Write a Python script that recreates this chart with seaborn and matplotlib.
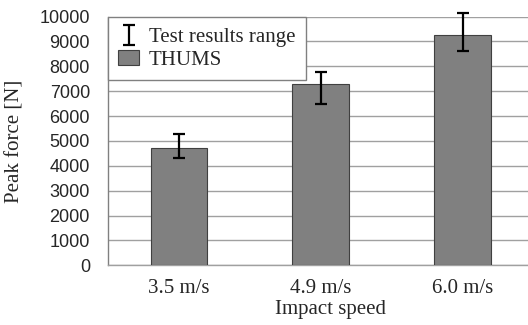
import matplotlib
matplotlib.use("Agg")
import matplotlib.pyplot as plt
import seaborn as sns
import pandas as pd
import numpy as np

categories = ["3.5 m/s", "4.9 m/s", "6.0 m/s"]
thums_force = [4700, 7300, 9250]
test_low = [4300, 6500, 8630]
test_high = [5260, 7760, 10130]
y_ticks = [0, 1000, 2000, 3000, 4000, 5000, 6000, 7000, 8000, 9000, 10000]

sns.set_theme(style="white")
serif = "Liberation Serif"
sans = "Liberation Sans"

fig = plt.figure(figsize=(5.28, 3.25), dpi=100)
ax = fig.add_axes([108 / 528, 1 - 265.3 / 325, 425.5 / 528, 248.7 / 325])

df = pd.DataFrame({"speed": categories, "force": thums_force})
sns.barplot(data=df, x="speed", y="force", order=categories, color="#808080",
            saturation=1, width=0.4, edgecolor="#404040", linewidth=0.8,
            errorbar=None, ax=ax, zorder=3, label="THUMS")

pos = np.arange(len(categories))
mid = [(lo + hi) / 2 for lo, hi in zip(test_low, test_high)]
err = [[m - lo for m, lo in zip(mid, test_low)], [hi - m for hi, m in zip(test_high, mid)]]
eb = ax.errorbar(pos, mid, yerr=err, fmt="none", ecolor="black", elinewidth=1.6,
                 capsize=4.5, capthick=1.6, zorder=5, label="Test results range")
for art in list(eb.lines[1]) + list(eb.lines[2]):
    art.set_clip_on(False)

ax.set_xlim(-0.5, 2.5)
ax.set_ylim(0, 10000)
ax.set_yticks(y_ticks)
ax.yaxis.grid(True, color="#a0a0a0", linewidth=1.0, zorder=0)
ax.set_axisbelow(True)

for s in ["top", "right"]:
    ax.spines[s].set_visible(False)
ax.spines["left"].set_color("#808080")
ax.spines["left"].set_linewidth(1.0)
ax.spines["bottom"].set_color("#a0a0a0")
ax.spines["bottom"].set_linewidth(1.0)

ax.tick_params(axis="y", length=0, pad=13, labelsize=13)
for t in ax.get_yticklabels():
    t.set_fontfamily(sans)
ax.tick_params(axis="x", which="major", length=0, pad=10, labelsize=15)
for t in ax.get_xticklabels():
    t.set_fontfamily(serif)
ax.set_xticks([0.5, 1.5], minor=True)
ax.tick_params(axis="x", which="minor", direction="in", length=4.5, width=1.0, color="#808080")

ax.set_xlabel("Impact speed", fontsize=15, fontfamily=serif, labelpad=0)
ax.xaxis.set_label_coords(0.522, -0.14)
ax.set_ylabel("Peak force [N]", fontsize=15, fontfamily=serif, labelpad=11)

handles, labels = ax.get_legend_handles_labels()
order = [labels.index("Test results range"), labels.index("THUMS")]
leg = ax.legend([handles[i] for i in order], [labels[i] for i in order],
                loc="upper left", bbox_to_anchor=(0.0, 0.997), borderaxespad=0,
                frameon=True, fancybox=False, edgecolor="#808080", framealpha=1,
                prop={"family": serif, "size": 15}, handlelength=1.0,
                handletextpad=0.45, labelspacing=0.15, borderpad=0.5)
leg.get_frame().set_linewidth(1.0)
leg.set_zorder(10)

fig.savefig("out.png", dpi=100)
